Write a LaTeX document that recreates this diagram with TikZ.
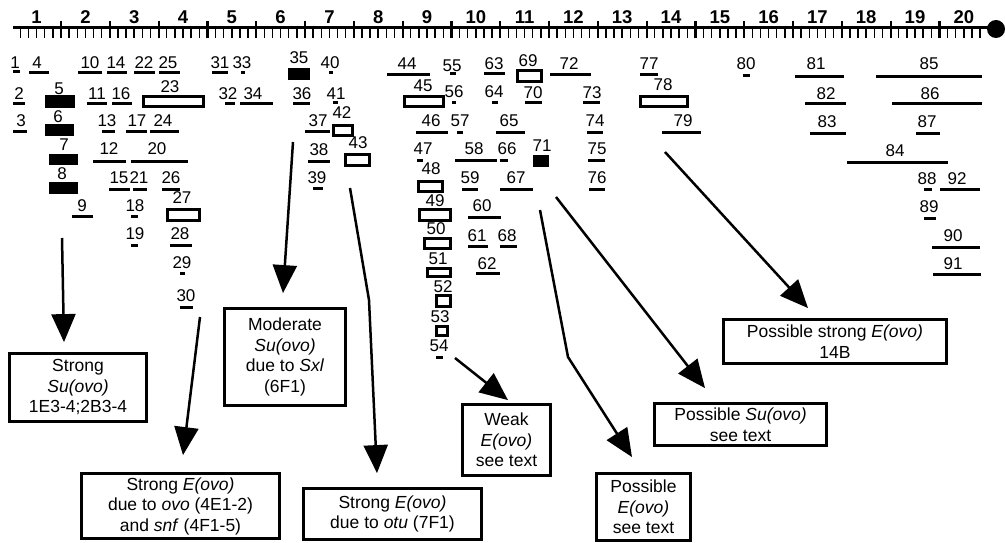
\documentclass[tikz,border=0pt]{standalone}
\usepackage{fontspec}
\setmainfont{Liberation Sans}
\usetikzlibrary{arrows.meta}

\begin{document}
\begin{tikzpicture}[x=1pt, y=-1pt,
  every node/.style={inner sep=0pt, font=\fontsize{17}{19}\selectfont},
  band/.style={line width=3pt},
  openband/.style={line width=2.6pt},
  box/.style={draw, line width=2.8pt, align=center, font=\fontsize{17.5}{20.5}\selectfont},
  effect/.style={-{Triangle[length=28pt,width=24pt]}, line width=2.5pt}]
  \useasboundingbox (0,0) rectangle (1005,543);

  % chromosome scale
  \draw[line width=3pt] (13,28) -- (988,28);
  \foreach \k in {-5,...,113}
    \draw[line width=1.5pt] (61+8.1333*\k,28) -- (61+8.1333*\k,38);
  \foreach \j in {0,...,18}
    \draw[line width=2.2pt] (61+48.8*\j,21) -- (61+48.8*\j,38);
  \foreach \i in {1,...,20}
    \node[font=\fontsize{18.5}{20}\selectfont\bfseries] (div\i) at (48.8*\i-12.2,17) {\i};
  \fill (996,29) circle (9pt);

  % thin bands
  \foreach \n/\x/\y/\a/\b/\z in {1/15/63/13/20/72, 4/37/63/29/49/73,
    10/90/63/78/102/73, 14/116/63/107/127/73, 22/144/63/134/155/73,
    25/168/63/159/180/73, 31/220/63/212/228/73, 33/242/63/241/245/73,
    40/330/63/329/333/73, 44/407/64/387/430/75, 55/452/66/450/456/74,
    63/494/64/484/505/74, 72/569/64/550/591/75, 77/649/64/640/658/75,
    80/746/64/743/750/76, 81/816/64/795/844/77, 85/929/64/876/982/77,
    2/19/94/13/25/104, 11/97/94/87/107/104, 16/121/94/112/132/104,
    32/228/94/225/235/104, 34/253/94/240/273/104, 36/302/94/293/310/104,
    41/336/94/333/338/103, 56/454/92/452/456/103, 64/494/92/492/498/103,
    70/533/93/525/542/103, 73/592/93/583/600/103, 82/826/94/805/846/104,
    86/930/94/892/982/104, 3/21/121/13/27/131, 13/107/121/102/115/131,
    17/137/121/126/147/131, 24/163/121/150/179/131, 37/318/121/305/330/131,
    46/431/121/416/448/132, 57/460/121/457/463/132, 65/509/121/496/525/132,
    74/595/121/587/603/132, 79/683/121/662/701/132, 83/827/122/810/846/133,
    87/927/122/916/940/133, 12/109/149/93/126/161, 20/157/149/131/188/161,
    38/319/150/308/330/161, 47/423/149/417/423/160, 58/474/149/455/497/160,
    66/507/149/500/508/160, 75/597/149/588/605/160, 84/895/151/847/948/162,
    15/119/178/109/130/189, 21/139/178/133/147/189, 26/171/178/162/180/189,
    39/317/178/313/323/188, 59/470/178/462/478/189, 67/516/178/500/533/189,
    76/597/178/589/605/189, 88/927/179/924/932/189, 92/957/179/940/980/189,
    9/82/206/72/93/216, 18/135/206/131/138/216, 60/482/206/468/501/217,
    89/929/207/924/936/218, 19/135/234/131/138/245, 28/180/234/170/192/245,
    61/477/236/468/488/246, 68/507/236/500/517/246, 90/953/236/932/980/247,
    29/182/263/180/185/273, 62/487/264/476/500/273, 91/953/264/933/981/274,
    30/186/296/180/193/307, 54/439/346/436/443/357}{
    \node (l\n) at (\x,\y) {\n};
    \draw[band] (\a,\z) -- (\b,\z);
  }

  % solid bands
  \foreach \n/\x/\y/\a/\b/\c/\d in {5/59/89/45/75/95/108, 6/58/117/45/74/124/136,
    7/64/145/49/78/154/165, 8/62/174/49/78/182/194, 35/299/58/288/310/68/80,
    71/542/146/533/549/155/167}{
    \node (l\n) at (\x,\y) {\n};
    \fill (\a,\c) rectangle (\b,\d);
  }

  % open bands
  \foreach \n/\x/\y/\a/\b/\c/\d in {23/170/87/142/205/95/108, 27/182/198/166/201/208/222,
    42/342/113/332/354/124/137, 43/358/143/344/371/153/167, 45/423/86/403/445/95/108,
    48/431/169/417/444/180/193, 49/435/201/418/452/208/222, 50/436/229/423/452/237/250,
    51/438/259/426/452/267/278, 52/443/287/435/452/294/308, 53/440/317/435/449/325/337,
    69/528/61/516/543/69/83, 78/663/85/639/689/95/108}{
    \node (l\n) at (\x,\y) {\n};
    \draw[openband] (\a+1.3,\c+1.3) rectangle (\b-1.3,\d-1.3);
  }

  % effect boxes
  \node[box, minimum width=137pt, minimum height=68pt] (sustrong) at (78,387.5)
    {Strong\\\textit{Su(ovo)}\\1E3-4;2B3-4};
  \node[box, minimum width=121pt, minimum height=97pt] (sumoderate) at (285,357)
    {Moderate\\\textit{Su(ovo)}\\due to \textit{Sxl}\\(6F1)};
  \node[box, minimum width=198pt, minimum height=65pt] (eovo) at (180.5,506)
    {Strong \textit{E(ovo)}\\due to \textit{ovo} (4E1-2)\\and \textit{snf} (4F1-5)};
  \node[box, minimum width=178pt, minimum height=51pt] (eotu) at (392.5,514)
    {Strong \textit{E(ovo)}\\due to \textit{otu} (7F1)};
  \node[box, minimum width=88pt, minimum height=71pt] (eweak) at (506.5,440)
    {Weak\\\textit{E(ovo)}\\see text};
  \node[box, minimum width=94pt, minimum height=67pt] (epossible) at (643.5,507)
    {Possible\\\textit{E(ovo)}\\see text};
  \node[box, minimum width=172pt, minimum height=42pt] (supossible) at (740.5,424.5)
    {Possible \textit{Su(ovo)}\\see text};
  \node[box, minimum width=223pt, minimum height=44pt] (estrong) at (835,341.5)
    {Possible strong \textit{E(ovo)}\\14B};

  % arrows from the regions
  \coordinate (s1) at (62,238);
  \coordinate (s2) at (293,142);
  \coordinate (s3) at (200,317);
  \coordinate (s4) at (350,188);
  \coordinate (s5) at (455,358);
  \coordinate (s6) at (540,210);
  \coordinate (s7) at (556,197);
  \coordinate (s8) at (665,152);
  \draw[effect] (s1) -- ([shift={(-14,-10)}]sustrong.north);
  \draw[effect] (s2) -- ([shift={(-2,-14)}]sumoderate.north);
  \draw[effect] (s3) -- ([shift={(2.5,-17)}]eovo.north);
  \draw[effect] (s4) -- (369,300) -- ([shift={(-15.5,-14)}]eotu.north);
  \draw[effect] (s5) -- ([shift={(1.5,-3)}]eweak.north);
  \draw[effect] (s6) -- (568,357) -- ([shift={(-11.5,-15)}]epossible.north);
  \draw[effect] (s7) -- ([shift={(-35.5,-14)}]supossible.north);
  \draw[effect] (s8) -- ([shift={(-27,-10)}]estrong.north);
\end{tikzpicture}
\end{document}
